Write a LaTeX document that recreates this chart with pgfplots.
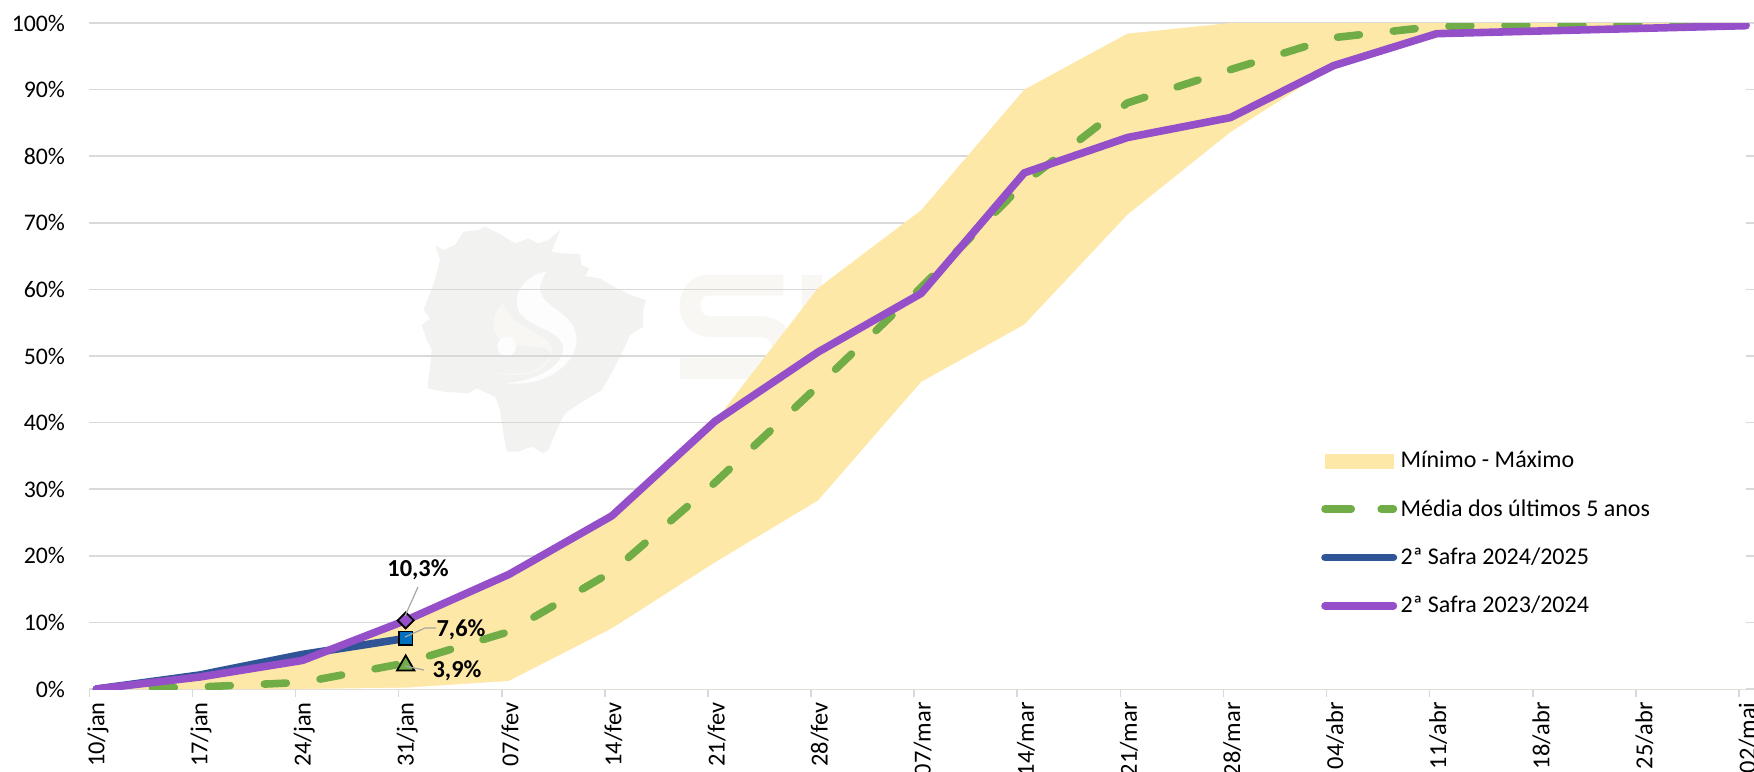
\documentclass[border=0pt]{standalone}
\usepackage{fontspec}
\setmainfont{Carlito}
\usepackage{pgfplots}
\usepackage{pgfplotstable}
\pgfplotsset{compat=1.18}
\definecolor{faixa}{HTML}{FEE8A8}
\definecolor{media}{HTML}{70AD47}
\definecolor{safraA}{HTML}{2F5597}
\definecolor{safraB}{HTML}{954FC8}
\definecolor{quadrado}{HTML}{0070C0}
\definecolor{grade}{HTML}{D9D9D9}
\definecolor{mapa}{HTML}{F2F3F1}
\definecolor{marca}{HTML}{F8F7F3}

\pgfplotstableread{
i  min   max
0  0     0
1  0     1.8
2  0     4.3
3  0.2   10.3
4  1.2   17.2
5  9.1   26
6  19    40.2
7  28.3  60.2
8  46.1  71.9
9  54.7  90
10 71.2  98.4
11 83.6  100
12 93.5  100
13 98.4  100
14 98.8  100
15 99.2  100
16 99.6  100
}\faixatab
\pgfplotstableread{
i  y
0  0
1  0.3
2  1.0
3  3.9
4  8.6
5  17.6
6  31
7  45.5
8  60.3
9  76
10 88
11 93
12 97.8
13 99.5
14 99.7
15 99.8
16 99.7
}\mediatab
\pgfplotstableread{
i  y
0  0
1  2.1
2  5.2
3  7.6
}\safraAtab
\pgfplotstableread{
i  y
0  0
1  1.8
2  4.3
3  10.3
4  17.2
5  26
6  40.2
7  50.6
8  59.4
9  77.5
10 82.8
11 85.8
12 93.6
13 98.4
14 98.8
15 99.2
16 99.6
}\safraBtab

\begin{document}
\begin{tikzpicture}
\path[use as bounding box, clip] (0,0) rectangle (877pt,-385.5pt);

% marca d'agua
\begin{scope}[x=0.16667pt, y=-0.16667pt, shift={(1200,630)}]
  \fill[mapa] (105,105)--(130,120)--(165,105)--(190,65)--(235,60)--(255,50)--(300,72)--(345,100)--(385,85)--(415,100)--(445,90)--(480,60)--(455,125)--(490,130)--(540,132)--(545,165)--(568,175)--(555,198)--(600,205)--(650,235)--(700,258)--(738,270)--(730,300)--(730,350)--(690,375)--(670,420)--(650,460)--(635,490)--(605,540)--(540,580)--(495,610)--(470,660)--(445,720)--(430,730)--(395,710)--(355,725)--(320,725)--(310,670)--(300,600)--(285,560)--(230,535)--(205,550)--(130,545)--(82,535)--(90,470)--(95,420)--(80,390)--(65,345)--(90,325)--(70,300)--(100,225)--(120,150)--cycle;
  \fill[white!80!mapa] (440,185) .. controls (370,195) and (330,260) .. (360,310) .. controls (400,360) and (490,360) .. (490,420) .. controls (480,480) and (400,510) .. (320,520) .. controls (430,530) and (530,470) .. (530,385) .. controls (520,300) and (430,300) .. (420,240) .. controls (420,215) and (430,200) .. (440,185) -- cycle;
  \fill[marca] (310,280) .. controls (270,310) and (270,370) .. (310,395) .. controls (370,420) and (450,400) .. (450,430) .. controls (440,490) and (340,505) .. (250,480) .. controls (340,510) and (460,500) .. (455,410) .. controls (440,370) and (330,350) .. (310,280) -- cycle;
  \fill[white!80!mapa] (320,410) circle[x radius=28, y radius=30];
  \draw[marca, line width=10.5pt] (1150,225) -- (930,225) .. controls (850,225) and (850,350) .. (930,350) -- (1080,350) .. controls (1170,350) and (1170,475) .. (1080,475) -- (840,475);
  \fill[marca] (1205,195) rectangle (1265,500);
\end{scope}

\begin{axis}[
    scale only axis,
    at={(44.7pt,-344.5pt)}, anchor=south west,
    width=832.3pt, height=333pt,
    xmin=-0.068, xmax=16.078,
    ymin=0, ymax=100,
    axis y line*=left, axis x line*=bottom,
    y axis line style={draw=none},
    x axis line style={draw=grade, line width=1pt, -},
    xtick={-0.068,0.932,1.932,2.932,3.932,4.932,5.932,6.932,7.932,8.932,9.932,10.932,11.932,12.932,13.932,14.932,15.932},
    xticklabels={10/jan,17/jan,24/jan,31/jan,07/fev,14/fev,21/fev,28/fev,07/mar,14/mar,21/mar,28/mar,04/abr,11/abr,18/abr,25/abr,02/mai},
    ytick={0,10,...,100},
    yticklabel={\pgfmathprintnumber{\tick}\%},
    /pgf/number format/assume math mode=true,
    ymajorgrids=true,
    grid style={draw=grade, line width=0.8pt},
    tick style={draw=grade, line width=0.8pt},
    major tick length=4pt,
    ytick style={draw=none},
    tick align=outside,
    font=\fontsize{11.9pt}{13pt}\selectfont,
    x tick label style={font=\fontsize{12.2pt}{14pt}\selectfont, xshift=4.3pt, yshift=-2.5pt, rotate=90, anchor=east, inner sep=0pt},
    y tick label style={anchor=east, inner sep=0pt, xshift=-8pt},
    legend cell align=left,
    legend style={
      at={(axis cs:11.88,35.7)}, anchor=north west,
      draw=none, fill=none, inner sep=0pt, outer sep=0pt,
      font=\fontsize{12pt}{13pt}\selectfont,
      row sep=14.3pt,
      nodes={inner sep=0pt, anchor=west},
    },
  ]
  \addplot[draw=none, fill=faixa, forget plot] table[x=i, y=max] {\faixatab} \closedcycle;
  \addplot[draw=none, fill=white, forget plot] table[x=i, y=min] {\faixatab} \closedcycle;

  \addlegendimage{legend image code/.code={\fill[faixa] (2pt,-3.5pt) rectangle (36pt,3.5pt); \path[draw=none] (0,0) -- (39.7pt,0);}}
  \addlegendentry{Mínimo - Máximo}

  \addplot[media, line width=3.8pt, line cap=round, line join=round,
    dash pattern=on 11pt off 17pt,
    legend image code/.code={
      \draw[media, line width=3.8pt, line cap=round, solid] (1.9pt,0) -- (15pt,0);
      \draw[media, line width=3.8pt, line cap=round, solid] (30pt,0) -- (36.1pt,0);
      \path[draw=none] (0,0) -- (39.7pt,0);}]
    table[x=i, y=y] {\mediatab};
  \addlegendentry{Média dos últimos 5 anos}

  \addplot[safraA, line width=3.8pt, line cap=round, line join=round,
    legend image code/.code={
      \draw[safraA, line width=3.8pt, line cap=round] (1.9pt,0) -- (36.1pt,0);
      \path[draw=none] (0,0) -- (39.7pt,0);}]
    table[x=i, y=y] {\safraAtab};
  \addlegendentry{2ª Safra 2024/2025}

  \addplot[safraB, line width=3.8pt, line cap=round, line join=round,
    legend image code/.code={
      \draw[safraB, line width=3.8pt, line cap=round] (1.9pt,0) -- (36.1pt,0);
      \path[draw=none] (0,0) -- (39.7pt,0);}]
    table[x=i, y=y] {\safraBtab};
  \addlegendentry{2ª Safra 2023/2024}

  % marcadores de 31/jan
  \addplot[only marks, forget plot, mark=triangle*, mark size=5pt,
    mark options={fill=media, draw=black, line width=0.9pt, yshift=-1.2pt}] coordinates {(3,3.9)};
  \addplot[only marks, forget plot, mark=square*, mark size=3.4pt,
    mark options={fill=quadrado, draw=black, line width=0.9pt}] coordinates {(3,7.6)};
  \addplot[only marks, forget plot, mark=square*, mark size=2.85pt,
    mark options={fill=safraB, draw=black, line width=0.9pt, rotate=45}] coordinates {(3,10.3)};
\end{axis}

% rotulos de dados (coordenadas em pixels)
\begin{scope}[x=0.5pt, y=-0.5pt, every node/.style={font=\fontsize{12.2pt}{13pt}\selectfont\bfseries, inner sep=0pt}]
  \draw[gray!70, line width=0.6pt] (405,616) -- (418,587);
  \draw[gray!70, line width=0.6pt] (405,637) -- (425,628) -- (436,628);
  \draw[gray!70, line width=0.6pt] (405,666) -- (424,670);
  \node at (418,570) {10,3\%};
  \node at (461,630) {7,6\%};
  \node at (457,671) {3,9\%};
\end{scope}
\end{tikzpicture}
\end{document}
